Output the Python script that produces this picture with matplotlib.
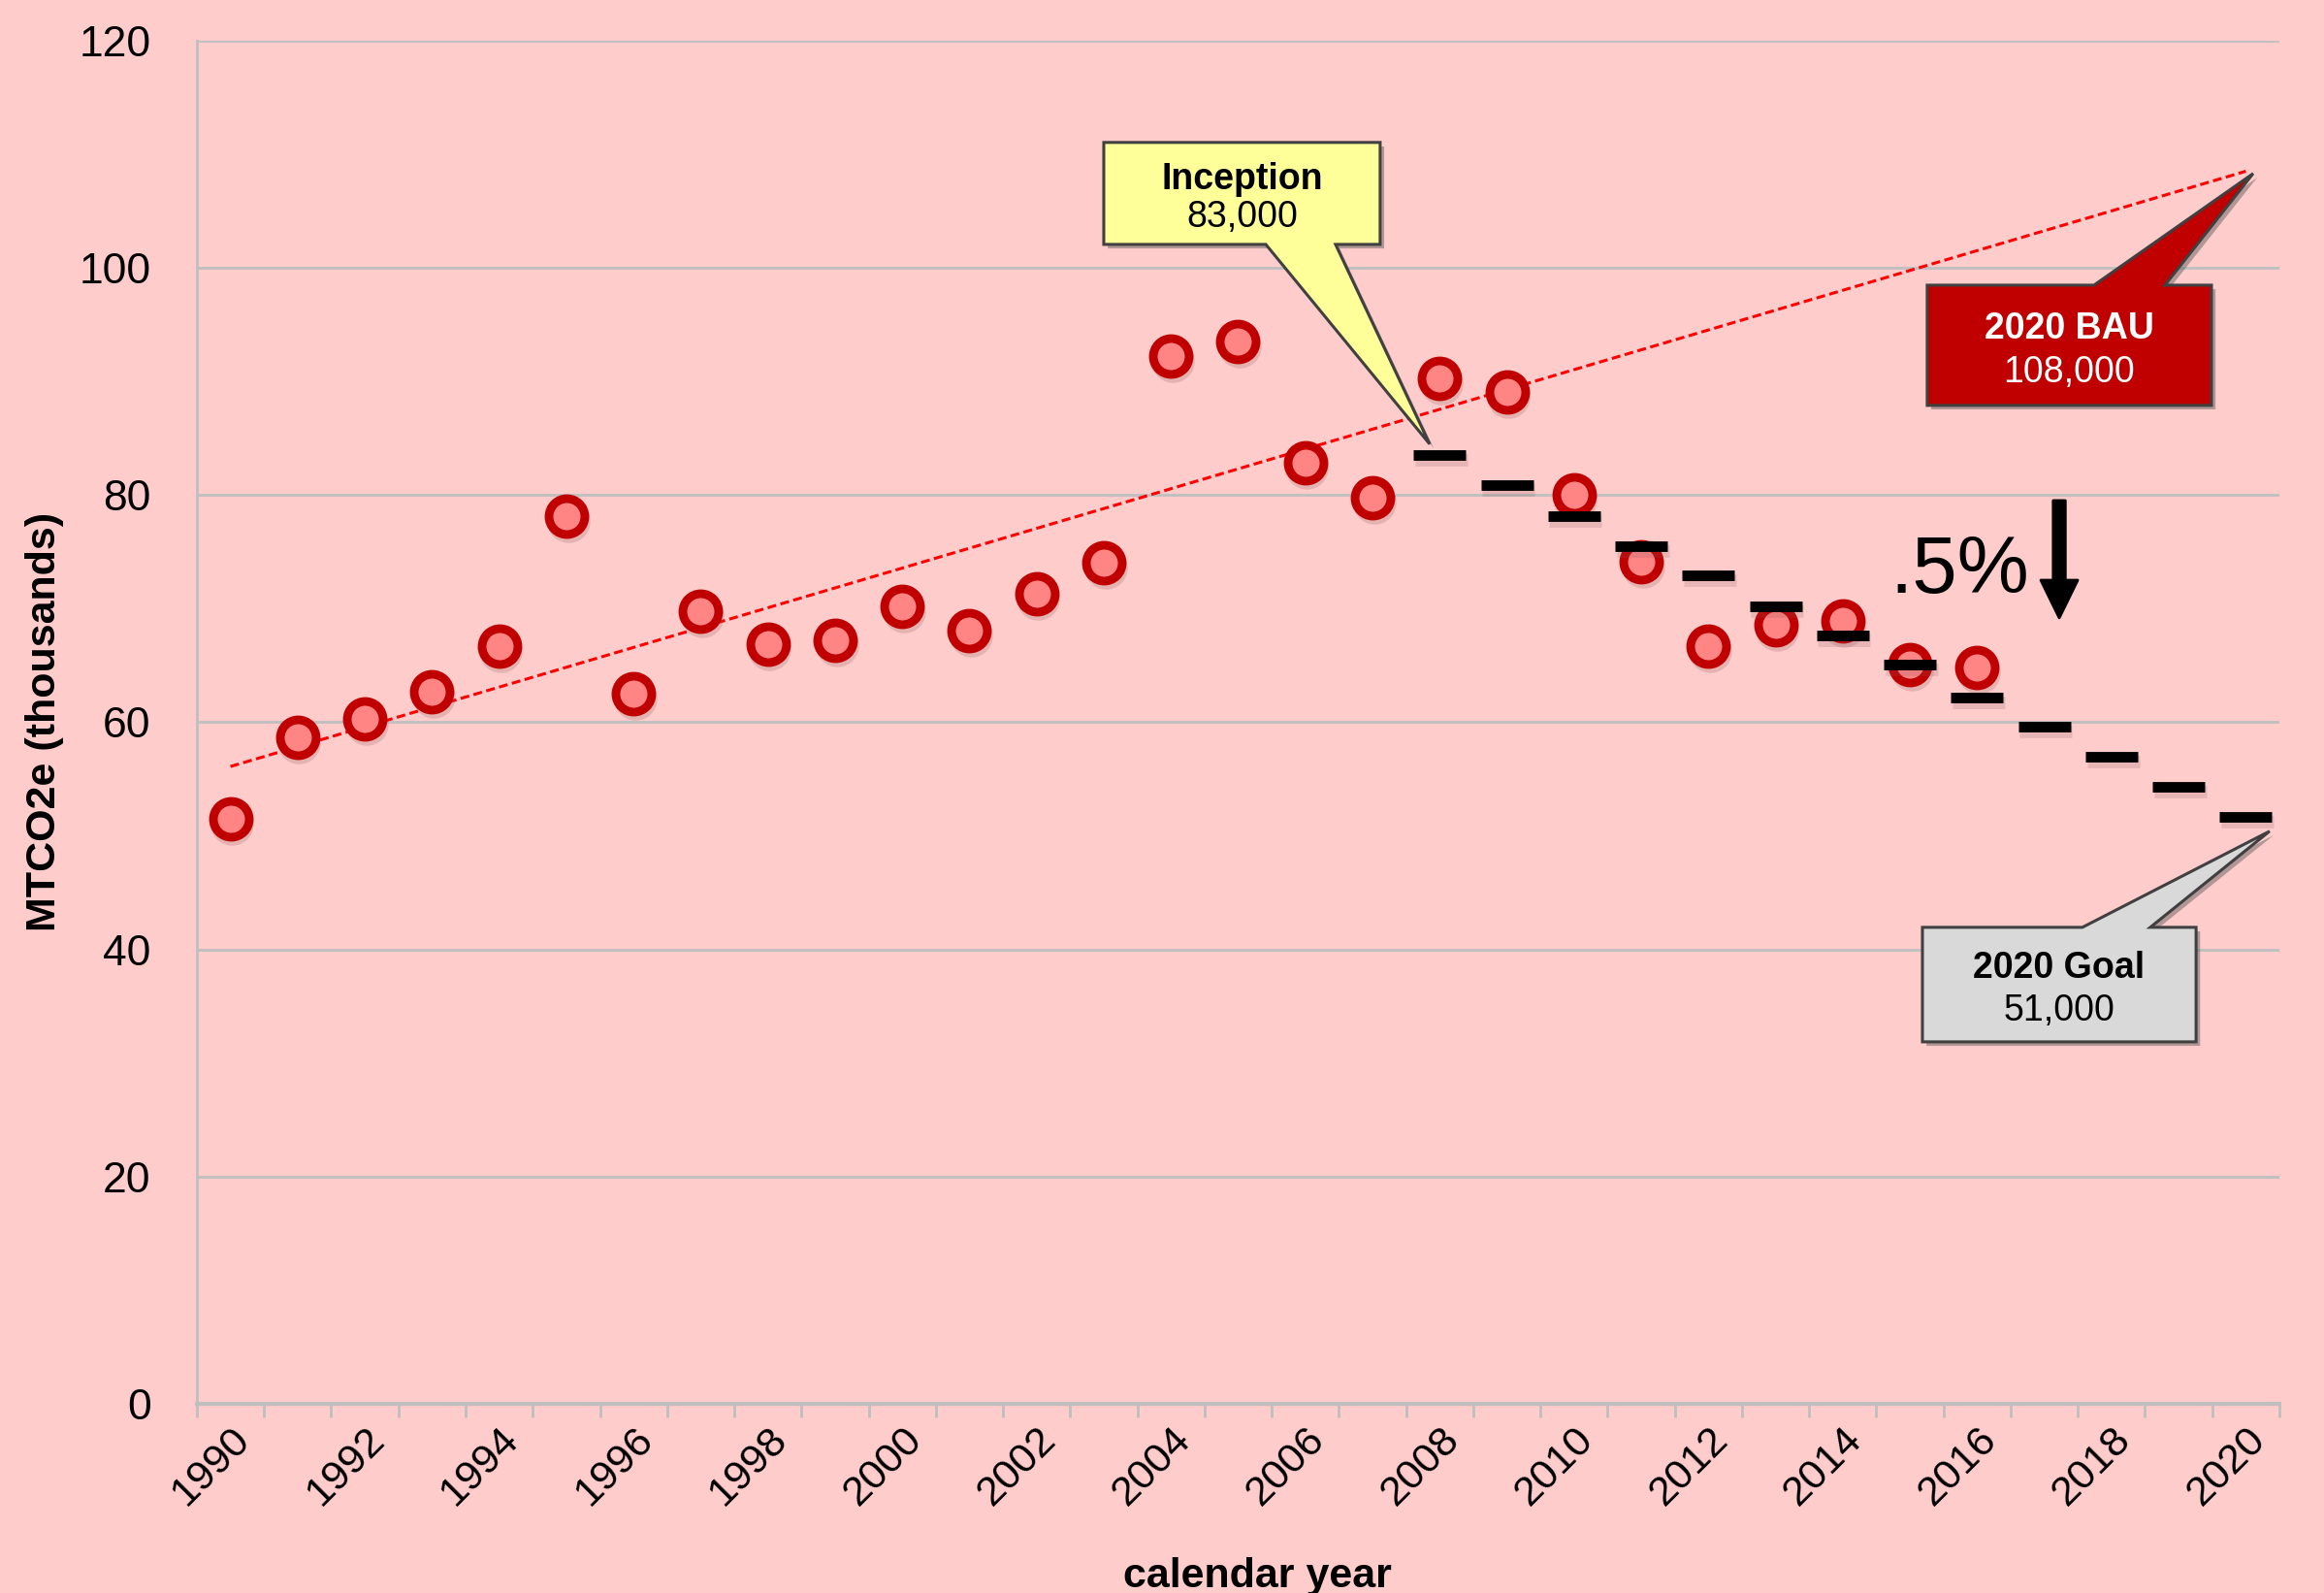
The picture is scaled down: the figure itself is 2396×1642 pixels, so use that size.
import matplotlib
matplotlib.use("Agg")
import matplotlib.pyplot as plt
import matplotlib.patheffects as pe
from matplotlib import transforms
from matplotlib.patches import Polygon, FancyArrowPatch

plt.rcParams['font.family'] = ['Liberation Sans', 'DejaVu Sans']

# actual emissions (thousands MTCO2e)
years = list(range(1990, 2017))
emissions = [51.5, 58.7, 60.3, 62.7, 66.7, 78.1, 62.5, 69.8, 66.9, 67.2,
             70.2, 68.1, 71.3, 74.0, 92.2, 93.5, 82.8, 79.8, 90.3, 89.1,
             80.0, 74.1, 66.7, 68.6, 68.9, 65.1, 64.8]

# reduction path from inception to the 2020 goal
target_years = list(range(2008, 2021))
target = [83.5, 80.9, 78.1, 75.5, 72.9, 70.2, 67.6, 65.1, 62.2, 59.6,
          57.0, 54.3, 51.7]

# business as usual trend
bau_years = [1990, 2020]
bau = [56.1, 108.5]

tick_years = list(range(1990, 2021, 2))
y_ticks = [0, 20, 40, 60, 80, 100, 120]

bg = '#FFCCCC'
grid_col = '#BFBFBF'

fig = plt.figure(figsize=(11.98, 8.21), dpi=200, facecolor=bg)
ax = fig.add_axes([0.0847, 0.1188, 0.8961, 0.8557], facecolor=bg)

ax.set_xlim(1989.5, 2020.5)
ax.set_ylim(0, 120)

# grid and axes
ax.set_yticks(y_ticks)
ax.yaxis.grid(True, color=grid_col, lw=1, zorder=0)
ax.set_axisbelow(True)
for s in ['top', 'right']:
    ax.spines[s].set_visible(False)
ax.spines['left'].set_color(grid_col)
ax.spines['left'].set_linewidth(1)
ax.spines['bottom'].set_color(grid_col)
ax.spines['bottom'].set_linewidth(1.5)

ax.set_xticks([y - 0.5 for y in range(1990, 2022)])
ax.tick_params(axis='x', which='major', length=5, width=1, color=grid_col,
               labelbottom=False, direction='out')
ax.set_xticks(tick_years, minor=True)
ax.set_xticklabels([str(y) for y in tick_years], minor=True, rotation=45,
                   ha='right', va='top', rotation_mode='anchor')
ax.tick_params(axis='x', which='minor', length=0, pad=6, labelsize=15.5)
ax.tick_params(axis='y', length=0, pad=17, labelsize=16)

ax.set_xlabel('calendar year', fontsize=15.5, fontweight='bold')
ax.xaxis.set_label_coords(0.5095, -0.1125)
ax.set_ylabel('MTCO2e (thousands)', fontsize=15.5, fontweight='bold')
ax.yaxis.set_label_coords(-0.0731, 0.5)
ax.yaxis.label.set_va('center')

# BAU trend line
ax.plot(bau_years, bau, color='#FF0000', lw=1.1, ls=(0, (3, 1.5)), zorder=2)

# emissions points with soft shadow
shadow = transforms.offset_copy(ax.transData, fig=fig, x=0.6, y=-1.8, units='points')
ax.plot(years, emissions, 'o', ms=16, color='#8a5a5a', alpha=0.22, mew=0,
        ls='none', transform=shadow, zorder=3)
ax.plot(years, emissions, 'o', ms=13.3, mfc='#FF8585', mec='#C00000', mew=3.2,
        ls='none', zorder=4)

# target dashes
ax.plot(target_years, target, '_', ms=19.6, mew=4.6, color='#8a5a5a', alpha=0.2,
        ls='none', transform=shadow, zorder=5)
ax.plot(target_years, target, '_', ms=19.6, mew=3.9, color='black',
        ls='none', zorder=6)


def callout(box, base, tip, side, face, title, value, tcolor):
    x0, x1, y0, y1 = box
    b1, b2 = base
    if side == 'bottom':
        pts = [(x0, y1), (x1, y1), (x1, y0), (b2, y0), tip, (b1, y0), (x0, y0)]
    else:
        pts = [(x0, y0), (x1, y0), (x1, y1), (b2, y1), tip, (b1, y1), (x0, y1)]
    poly = Polygon(pts, closed=True, transform=ax.transAxes, facecolor=face,
                   edgecolor='#404040', lw=1.1, zorder=7,
                   path_effects=[pe.SimplePatchShadow(offset=(1.5, -1.5),
                                                      shadow_rgbFace='#555555',
                                                      alpha=0.45),
                                 pe.Normal()])
    ax.add_patch(poly)
    cx = (x0 + x1) / 2
    h = y1 - y0
    ax.text(cx, y1 - 0.36 * h, title, transform=ax.transAxes, ha='center',
            va='center', fontsize=13.5, fontweight='bold', color=tcolor, zorder=8)
    ax.text(cx, y1 - 0.73 * h, value, transform=ax.transAxes, ha='center',
            va='center', fontsize=13.5, color=tcolor, zorder=8)


callout((0.4355, 0.5682, 0.8505, 0.9253), (0.5133, 0.5468), (0.592, 0.704),
        'bottom', '#FFFF99', 'Inception', '83,000', 'black')
callout((0.8309, 0.9674, 0.7324, 0.8206), (0.911, 0.945), (0.9874, 0.9025),
        'top', '#C00000', '2020 BAU', '108,000', 'white')
callout((0.8286, 0.9600, 0.2655, 0.3495), (0.9054, 0.9380), (0.9953, 0.420),
        'top', '#D9D9D9', '2020 Goal', '51,000', 'black')

# reduction rate label and arrow
ax.text(0.813, 0.595, '.5%', transform=ax.transAxes, fontsize=30,
        ha='left', va='baseline', zorder=8)
arrow = FancyArrowPatch((0.8943, 0.6626), (0.8943, 0.5765), transform=ax.transAxes,
                        arrowstyle='simple,head_length=1.4,head_width=1.37,tail_width=0.45',
                        mutation_scale=10, color='black', shrinkA=0, shrinkB=0, zorder=8)
ax.add_patch(arrow)

fig.savefig('out.png', dpi=200, facecolor=bg)
